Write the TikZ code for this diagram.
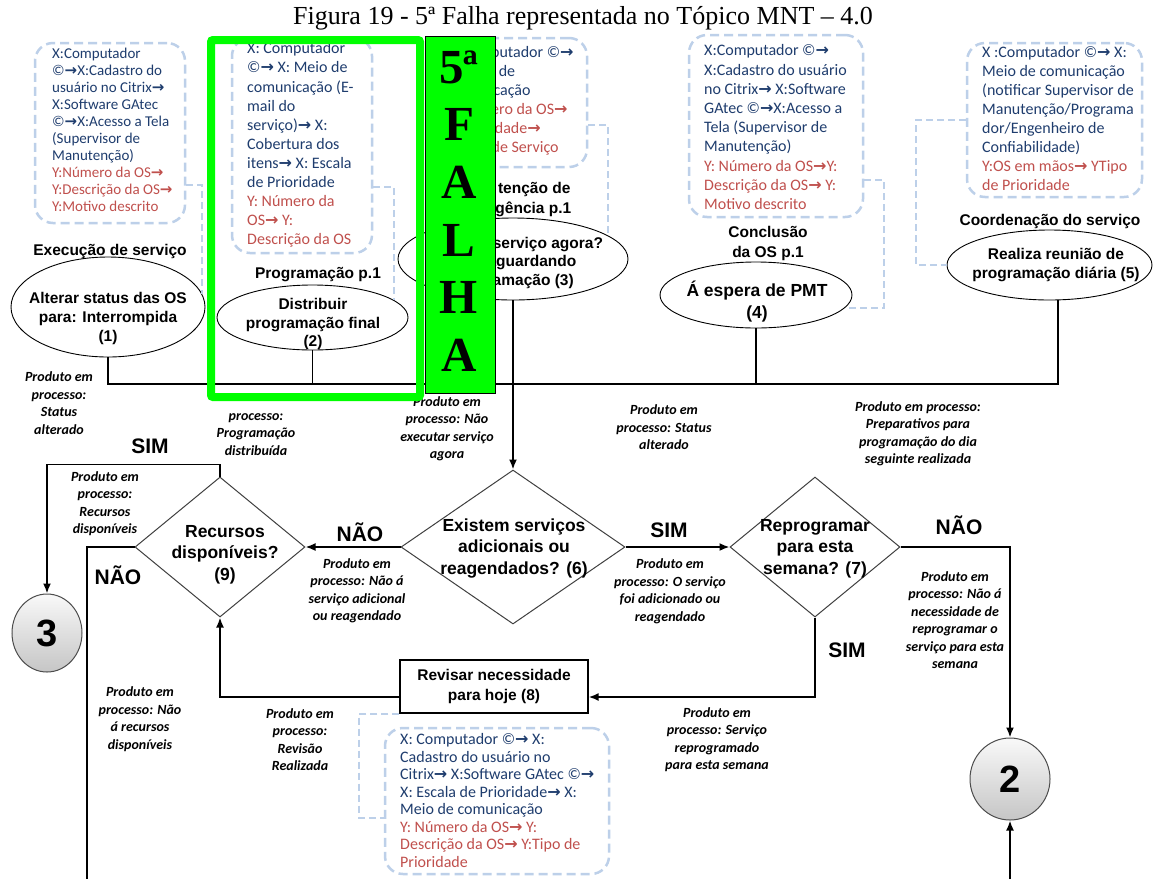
\documentclass[tikz,border=0pt]{standalone}
\usepackage{fontspec}
\setmainfont{Liberation Serif}
\newfontfamily\arialfont{Liberation Sans}
\newfontfamily\califont{Carlito}
\newfontfamily\symbfont{DejaVu Sans}
\usetikzlibrary{shapes.geometric,arrows.meta,calc}
\definecolor{navytxt}{HTML}{1F3D6E}
\definecolor{redtxt}{HTML}{C0504D}
\definecolor{dashblue}{HTML}{BDD0E9}
\definecolor{falhagreen}{HTML}{00FF00}
% bold right arrow used inside the resource lists
\newcommand{\tarr}{{\symbfont\bfseries\char"2192}}
\newcommand{\rtx}[1]{\textcolor{redtxt}{#1}}
\tikzset{
  infobox/.style={draw=dashblue, line width=2.5pt, dash pattern=on 9pt off 5pt,
    rounded corners=18pt, inner sep=0},
  infotext/.style={anchor=north west, align=left, inner sep=0, text=navytxt},
  hook/.style={draw=dashblue, line width=2pt, dash pattern=on 7pt off 4pt},
  oval/.style={ellipse, draw=black, line width=0.9pt, inner sep=0},
  ovaltext/.style={align=center, inner sep=0,
    font=\arialfont\bfseries\fontsize{15.5}{19}\selectfont},
  stage/.style={align=center, inner sep=0,
    font=\arialfont\bfseries\fontsize{15.5}{20}\selectfont},
  decision/.style={diamond, draw=black!75, line width=1pt, inner sep=0},
  dectext/.style={align=center, inner sep=0,
    font=\arialfont\bfseries\fontsize{17.5}{21.5}\selectfont},
  answer/.style={inner sep=0, font=\arialfont\bfseries\fontsize{21}{24}\selectfont},
  product/.style={align=center, inner sep=0,
    font=\califont\bfseries\itshape\fontsize{14}{17.5}\selectfont},
  taskbox/.style={draw=black, line width=1.2pt, inner sep=0, align=center,
    font=\arialfont\bfseries\fontsize{15.5}{20}\selectfont},
  flow/.style={line width=1.8pt, -{Latex[length=10pt,width=8pt]}},
  wire/.style={line width=1.5pt},
  connector/.style={ellipse, draw=black!70, line width=1pt, inner sep=0,
    top color=gray!5, bottom color=gray!45,
    font=\arialfont\bfseries\fontsize{38}{40}\selectfont},
}
\begin{document}
\begin{tikzpicture}[x=1pt,y=-1pt]
\useasboundingbox (0,0) rectangle (1153,879);
\fill[white] (0,0) rectangle (1153,879);

% caption
\node[inner sep=0, font=\fontsize{26}{30}\selectfont] (title) at (583,18)
  {Figura 19 - 5ª Falha representada no Tópico MNT – 4.0};

% ---------- resource lists (dashed boxes) ----------
\node[infobox, minimum width=150pt, minimum height=180pt] (b1) at (110,133) {};
\node[infotext, font=\califont\fontsize{15}{17}\selectfont] (b1t) at (52,47.5)
  {X:Computador\\
   ©\tarr X:Cadastro do\\
   usuário no Citrix\tarr\\
   X:Software GAtec\\
   ©\tarr X:Acesso a Tela\\
   (Supervisor de\\
   Manutenção)\\
   \rtx{Y:Número da OS\tarr}\\
   \rtx{Y:Descrição da OS\tarr}\\
   \rtx{Y:Motivo descrito}};

\node[infobox, minimum width=140pt, minimum height=215pt] (b2) at (302,145.5) {};
\node[infotext, font=\califont\fontsize{16}{19.1}\selectfont] (b2t) at (247,42.5)
  {X: Computador\\
   ©\tarr{} X: Meio de\\
   comunicação (E-\\
   mail do\\
   serviço)\tarr{} X:\\
   Cobertura dos\\
   itens\tarr{} X: Escala\\
   de Prioridade\\
   \rtx{Y: Número da}\\
   \rtx{OS\tarr{} Y:}\\
   \rtx{Descrição da OS}};

% this list runs behind the FALHA flag: only its right part is printed
\node[infobox, minimum width=157pt, minimum height=129pt] (b3) at (508.5,102.5) {};
\node[infotext, font=\califont\fontsize{16}{19}\selectfont] (b3t) at (445,46.5)
  {\phantom{X: Com}putador ©\tarr\\
   \phantom{X: Meio }de\\
   \phantom{comuni}cação\\
   \rtx{\phantom{Y: Núm}ero da OS\tarr}\\
   \rtx{\phantom{Y: Prior}idade\tarr}\\
   \rtx{\phantom{Y: Tipo }de Serviço}};

\node[infobox, minimum width=174pt, minimum height=182pt] (b4) at (776,126) {};
\node[infotext, font=\califont\fontsize{16}{19.2}\selectfont] (b4t) at (704,44.5)
  {X:Computador ©\tarr\\
   X:Cadastro do usuário\\
   no Citrix\tarr{} X:Software\\
   GAtec ©\tarr X:Acesso a\\
   Tela (Supervisor de\\
   Manutenção)\\
   \rtx{Y: Número da OS\tarr Y:}\\
   \rtx{Descrição da OS\tarr{} Y:}\\
   \rtx{Motivo descrito}};

\node[infobox, minimum width=175pt, minimum height=154pt] (b5) at (1054.5,120) {};
\node[infotext, font=\califont\fontsize{16}{19}\selectfont] (b5t) at (982,46.5)
  {X :Computador ©\tarr{} X:\\
   Meio de comunicação\\
   (notificar Supervisor de\\
   Manutenção/Programa\\
   dor/Engenheiro de\\
   Confiabilidade)\\
   \rtx{Y:OS em mãos\tarr{} YTipo}\\
   \rtx{de Prioridade}};

\node[infobox, minimum width=224pt, minimum height=146pt] (b6) at (497,801) {};
\node[infotext, font=\califont\fontsize{16}{17.5}\selectfont] (b6t) at (400,733.5)
  {X: Computador ©\tarr{} X:\\
   Cadastro do usuário no\\
   Citrix\tarr{} X:Software GAtec ©\tarr\\
   X: Escala de Prioridade\tarr{} X:\\
   Meio de comunicação\\
   \rtx{Y: Número da OS\tarr{} Y:}\\
   \rtx{Descrição da OS\tarr{} Y:Tipo de}\\
   \rtx{Prioridade}};

% ---------- activities ----------
\node[oval, minimum width=194pt, minimum height=100pt] (e1) at (108,307) {};
\node[ovaltext] (e1t) at (108,318) {Alterar status das OS\\para: Interrompida\\(1)};
\node[stage] (s1) at (110,251) {Execução de serviço};

\node[oval, minimum width=191pt, minimum height=65pt] (e2) at (312.5,317.5) {};
\node[ovaltext, font=\arialfont\bfseries\fontsize{15.5}{18.5}\selectfont] (e2t) at (313,324)
  {Distribuir\\programação final\\(2)};
\node[stage] (s2) at (318,275) {Programação p.1};

\node[oval, minimum width=230pt, minimum height=82pt] (e3) at (513,259) {};
\node[ovaltext, font=\arialfont\bfseries\fontsize{15.5}{18.5}\selectfont] (e3t) at (513,263)
  {\phantom{Executar }serviço agora?\\\phantom{Não, }aguardando\\\phantom{progr}amação (3)};
\node[stage] (s3) at (514,200) {\phantom{Manu}tenção de\\\phantom{Emer}gência p.1};

\node[oval, minimum width=192pt, minimum height=66pt] (e4) at (756,295) {};
\node[ovaltext, font=\arialfont\bfseries\fontsize{17.5}{22.5}\selectfont] (e4t) at (757,301.5)
  {Á espera de PMT\\(4)};
\node[stage] (s4) at (768,243.5) {Conclusão\\da OS p.1};

\node[oval, minimum width=205pt, minimum height=70pt] (e5) at (1049.5,265) {};
\node[ovaltext] (e5t) at (1056,265.5) {Realiza reunião de\\programação diária (5)};
\node[stage] (s5) at (1050,221) {Coordenação do serviço};

% links from the resource lists to their activities
\draw[hook] (b1.east |- {(0,185)}) -| (e1.8);
\draw[hook] (b2.east |- {(0,187)}) -| (e2.12);
\draw[hook] (b3.east |- {(0,125)}) -| (e3.14);
\draw[hook] (b4.east |- {(0,180)}) -- ++(20,0) |- (e4.-8);
\draw[hook] (b5.west |- {(0,120)}) -- ++(-50,0) |- (e5.west);

% common output line
\coordinate (busR) at (1058,384);
\draw[wire] (e1.south) |- (busR) -- (busR |- e5.south);
\draw[wire] (e2.south) -- (e2.south |- busR);
\draw[wire] (e4.south) -- (e4.south |- busR);

% ---------- decisions ----------
\node[decision, minimum width=224pt, minimum height=154pt] (d6) at (513,547) {};
\node[dectext] (d6t) at (514,548.5) {Existem serviços\\adicionais ou\\reagendados? (6)};
\node[decision, minimum width=170pt, minimum height=140pt] (d7) at (815,547) {};
\node[dectext] (d7t) at (815,548.5) {Reprogramar\\para esta\\semana? (7)};
\node[decision, minimum width=170pt, minimum height=140pt] (d9) at (220,547) {};
\node[dectext] (d9t) at (225,554.5) {Recursos\\disponíveis?\\(9)};

\node[taskbox, minimum width=188pt, minimum height=53pt] (b8) at (494,686.5)
  {Revisar necessidade\\para hoje (8)};

\node[connector, minimum width=70pt, minimum height=78pt] (c3) at (47,633) {3};
\node[connector, minimum width=80pt, minimum height=82pt] (c2) at (1010,779) {2};

\coordinate (exitL) at (87,879);
\coordinate (entryR) at (1010,879);

\draw[flow] (e3.south) -- (d6.north);
\draw[flow] (d6.west) -- (d9.east);
\draw[flow] (d6.east) -- (d7.west);
\draw[flow] (d7.east) -| (c2.north);
\draw[flow] (d7.south) |- ($(b8.east)+(0,10.5)$);
\draw[flow] ($(b8.west)+(0,10.5)$) -| (d9.south);
\draw[flow] (d9.north) -- ++(0,-12) -| (c3.north);
\draw[line width=1.8pt] (d9.west) -| (exitL);
\draw[flow] (entryR) -- (c2.south);
\draw[hook] (b8.south west) -- ++(-40,0) |- (b6.west |- {(0,818)});

% answers
\node[answer] (a1) at (150,446) {SIM};
\node[answer] (a2) at (118,575) {NÃO};
\node[answer] (a3) at (360,532) {NÃO};
\node[answer] (a4) at (669,530) {SIM};
\node[answer] (a5) at (959,525) {NÃO};
\node[answer] (a6) at (847,650) {SIM};

% products in process
\node[product] (p1) at (59,403) {Produto em\\processo:\\Status\\alterado};
\node[product] (p2) at (256,424) {\phantom{Produto em}\\processo:\\Programação\\distribuída};
\node[product] (p3) at (447,429) {Produto em\\processo: Não\\executar serviço\\agora};
\node[product] (p4) at (664,427.5) {Produto em\\processo: Status\\alterado};
\node[product] (p5) at (918,434) {Produto em processo:\\Preparativos para\\programação do dia\\seguinte realizada};
\node[product] (p6) at (105,503.5) {Produto em\\processo:\\Recursos\\disponíveis};
\node[product] (p7) at (357,591) {Produto em\\processo: Não á\\serviço adicional\\ou reagendado};
\node[product] (p8) at (670,591.5) {Produto em\\processo: O serviço\\foi adicionado ou\\reagendado};
\node[product] (p9) at (955,620) {Produto em\\processo: Não á\\necessidade de\\reprogramar o\\serviço para esta\\semana};
\node[product] (p10) at (140,719) {Produto em\\processo: Não\\á recursos\\disponíveis};
\node[product] (p11) at (300,739.5) {Produto em\\processo:\\Revisão\\Realizada};
\node[product] (p12) at (717,739.5) {Produto em\\processo: Serviço\\reprogramado\\para esta semana};

% ---------- highlight of the failure ----------
\node[draw=falhagreen, line width=8pt, rounded corners=2pt, inner sep=0,
  minimum width=209pt, minimum height=357pt] (frame) at (315.5,218.5) {};
\node[draw=black, line width=0.8pt, fill=falhagreen, inner sep=0,
  minimum width=70pt, minimum height=357pt] (flag) at (460,214.5) {};
\node[align=center, inner sep=0, font=\bfseries\fontsize{49}{57.6}\selectfont] (falha)
  at (459,211) {5ª\\F\\A\\L\\H\\A};
\end{tikzpicture}
\end{document}
